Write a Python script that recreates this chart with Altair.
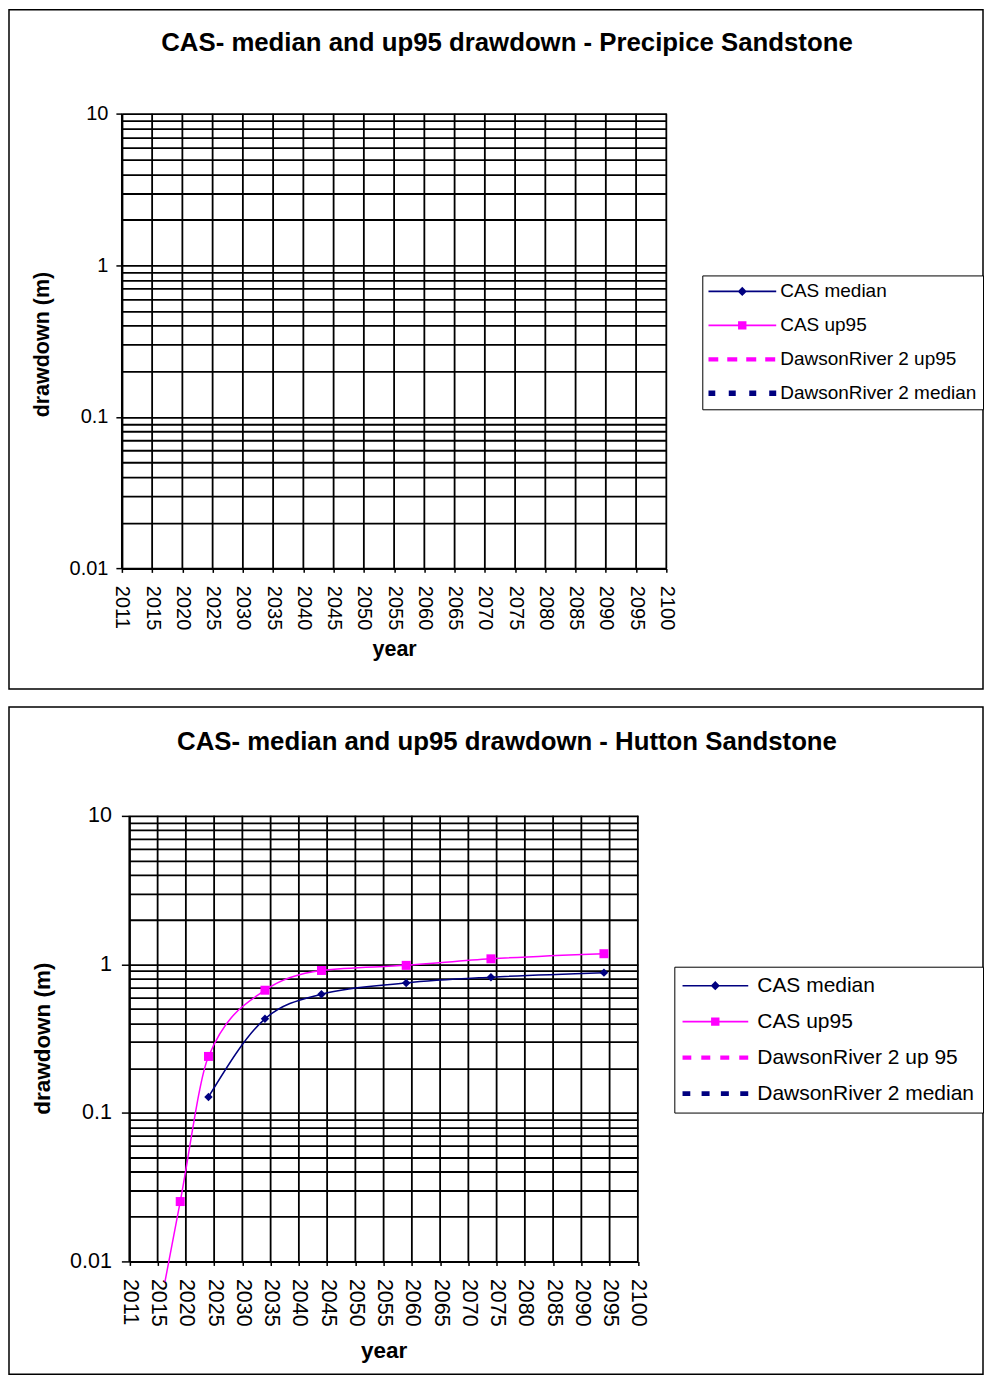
import altair as alt
import pandas as pd

FONT = "Liberation Sans"
NAVY = "#000080"
MAGENTA = "#FF00FF"

# ---------------- data ----------------
X_AXIS_YEARS = [2011, 2101]          # extent of the year axis
X_TICK_LABELS = [2011, 2015, 2020, 2025, 2030, 2035, 2040, 2045, 2050, 2055,
                 2060, 2065, 2070, 2075, 2080, 2085, 2090, 2095, 2100]
Y_DECADES = [0.01, 0.1, 1, 10]

PRECIPICE_TITLE = "CAS- median and up95 drawdown - Precipice Sandstone"
PRECIPICE_SERIES = ["CAS median", "CAS up95", "DawsonRiver 2 up95", "DawsonRiver 2 median"]
PRECIPICE_MEDIAN_YEARS = []
PRECIPICE_MEDIAN = []
PRECIPICE_UP95_YEARS = []
PRECIPICE_UP95 = []
PRECIPICE_UP95_START_YEARS = []
PRECIPICE_UP95_START = []

HUTTON_TITLE = "CAS- median and up95 drawdown - Hutton Sandstone"
HUTTON_SERIES = ["CAS median", "CAS up95", "DawsonRiver 2 up 95", "DawsonRiver 2 median"]
HUTTON_MEDIAN_YEARS = [2025, 2035, 2045, 2060, 2075, 2095]
HUTTON_MEDIAN = [0.128, 0.43, 0.63, 0.75, 0.82, 0.88]
HUTTON_UP95_YEARS = [2020, 2025, 2035, 2045, 2060, 2075, 2095]
HUTTON_UP95 = [0.0253, 0.24, 0.67, 0.91, 0.985, 1.09, 1.18]
# the up95 curve comes in from below the axis (no marker there)
HUTTON_UP95_START_YEARS = [2017.3]
HUTTON_UP95_START = [0.0073]

SERIES_COLORS = [NAVY, MAGENTA, MAGENTA, NAVY]

# ---------------- helpers ----------------
STEP = (X_AXIS_YEARS[1] - X_AXIS_YEARS[0]) / (len(X_TICK_LABELS) - 1)
X_TICK_POS = [X_AXIS_YEARS[0] + STEP * i for i in range(len(X_TICK_LABELS))]
X_LABEL_EXPR = ("[" + ",".join("'%d'" % v for v in X_TICK_LABELS) + "]"
                "[round((datum.value - %g) / %g)]" % (X_AXIS_YEARS[0], STEP))
Y_GRID = [round(m * d, 4) for d in Y_DECADES[:-1] for m in range(1, 10)] + [Y_DECADES[-1]]
DEC_LIST = "[" + ",".join(repr(d) for d in Y_DECADES) + "]"
IS_DECADE = "indexof(%s, datum.value) >= 0" % DEC_LIST

VIEW_W = 975
TITLE_FS = 25.8


def rect(x0, x1, h, w):
    u = w / 2.0
    return "M%.4f,%.4fH%.4fV%.4fH%.4fZ" % (x0 / u, -h / 2 / u, x1 / u, h / 2 / u, x0 / u)


def legend_shapes(w, dashed_up, dashed_med):
    half = w / 2.0
    line = rect(-half, half, 1.6, w)
    d = 4.6 / half
    diamond = "M0,%.4fL%.4f,0L0,%.4fL%.4f,0Z" % (-d, d, d, -d)
    square = rect(-4.2, 4.2, 8.4, w)
    up = "".join(rect(a - half, b - half, dashed_up[1], w) for a, b in dashed_up[0])
    med = "".join(rect(a - half, b - half, dashed_med[1], w) for a, b in dashed_med[0])
    return [line + diamond, line + square, up, med]


def panel(title, series, med_years, med_vals, up_years, up_vals,
          start_years, start_vals, g):
    rows = ([{"year": y, "value": v, "series": series[0]} for y, v in zip(med_years, med_vals)]
            + [{"year": y, "value": v, "series": series[1]}
               for y, v in zip(list(start_years) + list(up_years), list(start_vals) + list(up_vals))])
    line_df = pd.DataFrame(rows, columns=["year", "value", "series"])
    med_df = pd.DataFrame({"year": med_years, "value": med_vals})
    up_df = pd.DataFrame({"year": up_years, "value": up_vals})
    vgrid_df = pd.DataFrame({"year": X_TICK_POS, "lo": Y_DECADES[0], "hi": Y_DECADES[-1]})

    xscale = alt.Scale(domain=X_AXIS_YEARS, range=g["x_range"], nice=False, zero=False)
    yscale = alt.Scale(type="log", domain=[Y_DECADES[0], Y_DECADES[-1]], range=g["y_range"], nice=False)

    x_axis = alt.Axis(
        values=X_TICK_POS, labelExpr=X_LABEL_EXPR, labelAngle=90,
        labelFont=FONT, labelFontSize=g["lab_fs"], labelColor="black",
        labelPadding=13, labelFlush=False, labelOverlap=False,
        tickSize=4, tickColor="black", tickWidth=1.5,
        domainColor="black", domainWidth=2,
        grid=False,
        offset=-(g["view_h"] - g["y_range"][0]),
        title="year", titleFont=FONT, titleFontSize=g["ax_fs"], titleFontWeight="bold",
        titleColor="black", titleX=(g["x_range"][0] + g["x_range"][1]) / 2, titleY=g["xt_y"],
        titleBaseline="alphabetic", titleAlign="center", titleAngle=0,
    )
    y_axis = alt.Axis(
        values=Y_GRID, format="~g",
        labelExpr="%s ? datum.label : ''" % IS_DECADE,
        labelFont=FONT, labelFontSize=g["lab_fs"], labelColor="black",
        labelPadding=g["ylab_pad"], labelOverlap=False, labelFlush=False,
        tickSize=g["ytick"], tickColor="black", tickWidth=1.5,
        tickOpacity={"condition": {"test": IS_DECADE, "value": 1}, "value": 0},
        domainColor="black", domainWidth=2,
        grid=True, gridColor="black", gridWidth=1.8, gridOpacity=1,
        offset=-g["x_range"][0],
        title="drawdown (m)", titleFont=FONT, titleFontSize=g["ax_fs"], titleFontWeight="bold",
        titleColor="black", titleX=g["yt_x"] - g["x_range"][0], titleY=g["yt_y"],
        titleAngle=270, titleAlign="center", titleBaseline="middle",
    )

    # vertical grid lines at the year ticks, drawn through the scales
    vgrid = alt.Chart(vgrid_df).mark_rule(color="black", strokeWidth=1.8).encode(
        x=alt.X("year:Q", scale=xscale, axis=x_axis),
        y=alt.Y("lo:Q", scale=yscale, axis=y_axis),
        y2="hi:Q",
    )
    line = alt.Chart(line_df).mark_line(interpolate="monotone", strokeWidth=1.5).encode(
        x="year:Q",
        y="value:Q",
        stroke=alt.Stroke("series:N", scale=alt.Scale(domain=series[:2], range=SERIES_COLORS[:2]),
                          legend=None),
    )
    layers = [vgrid, line]
    if len(med_years):
        layers.append(alt.Chart(med_df).mark_point(shape="diamond", filled=True, size=72,
                                                   color=NAVY, opacity=1).encode(
            x="year:Q", y="value:Q"))
    if len(up_years):
        layers.append(alt.Chart(up_df).mark_point(shape="square", filled=True, size=81,
                                                  color=MAGENTA, opacity=1).encode(
            x="year:Q", y="value:Q"))

    sym_w = g["sym_w"]
    leg = alt.Legend(
        title=None, orient="none", legendX=g["leg_x"], legendY=g["leg_y"],
        padding=g["leg_pad"], strokeColor="black", fillColor="white",
        symbolSize=sym_w * sym_w, symbolStrokeWidth=0,
        clipHeight=g["leg_h"], rowPadding=g["leg_row"],
        labelFont=FONT, labelFontSize=g["leg_fs"], labelColor="black",
        labelOffset=g["leg_lo"], labelLimit=600,
    )
    legend_layer = alt.Chart(pd.DataFrame({"series": series})).transform_filter("false").mark_point(
        filled=True, opacity=1).encode(
        fill=alt.Fill("series:N", scale=alt.Scale(domain=series, range=SERIES_COLORS), legend=leg),
        shape=alt.Shape("series:N", scale=alt.Scale(domain=series, range=g["shapes"]), legend=leg),
    )
    layers.append(legend_layer)

    return alt.layer(*layers).properties(
        width=VIEW_W, height=g["view_h"],
        title=alt.TitleParams(text=title, font=FONT, fontSize=TITLE_FS, fontWeight="bold",
                              color="black", anchor="middle", frame="group",
                              offset=-(g["title_base"] + TITLE_FS + 0.75),
                              baseline="alphabetic", dx=11),
    )


# positions are relative to each framed panel
g_top = dict(
    view_h=680, x_range=[113, 658], y_range=[559.25, 104.25],
    lab_fs=20, ax_fs=21.5, leg_fs=19,
    ylab_pad=8, ytick=6,
    xt_y=87, yt_x=34, yt_y=334.75,
    title_base=40.5,
    leg_x=694, leg_y=266, leg_pad=6, leg_h=20, leg_row=14, leg_lo=4, sym_w=68,
)
g_top["shapes"] = legend_shapes(68, ([(0, 10), (19, 29), (38, 48), (57, 67)], 4.2),
                                ([(0, 7), (20.5, 27.5), (41, 48), (61, 68)], 5.5))

g_bot = dict(
    view_h=668, x_range=[120.5, 629.5], y_range=[555, 109],
    lab_fs=21.5, ax_fs=22.5, leg_fs=21,
    ylab_pad=10, ytick=8,
    xt_y=96.5, yt_x=34, yt_y=331.5,
    title_base=42.5,
    leg_x=666, leg_y=260, leg_pad=8, leg_h=22, leg_row=14, leg_lo=9, sym_w=66,
)
g_bot["shapes"] = legend_shapes(66, ([(0, 9), (19, 28), (38, 47), (57, 66)], 4.2),
                                ([(0, 8), (19.3, 27.3), (38.6, 46.6), (58, 66)], 4.6))

top = panel(PRECIPICE_TITLE, PRECIPICE_SERIES, PRECIPICE_MEDIAN_YEARS, PRECIPICE_MEDIAN,
            PRECIPICE_UP95_YEARS, PRECIPICE_UP95, PRECIPICE_UP95_START_YEARS, PRECIPICE_UP95_START, g_top)
bottom = panel(HUTTON_TITLE, HUTTON_SERIES, HUTTON_MEDIAN_YEARS, HUTTON_MEDIAN,
               HUTTON_UP95_YEARS, HUTTON_UP95, HUTTON_UP95_START_YEARS, HUTTON_UP95_START, g_bot)

chart = alt.vconcat(top, bottom, spacing=16).resolve_scale(
    x="independent", y="independent", fill="independent", shape="independent", stroke="independent"
).resolve_legend(
    fill="independent", shape="independent", stroke="independent"
).properties(
    padding=0, background="white"
).configure_view(
    stroke="black", strokeWidth=1.5, fill="white"
)

chart.save("out.html", embed_options={"renderer": "svg", "actions": False})
